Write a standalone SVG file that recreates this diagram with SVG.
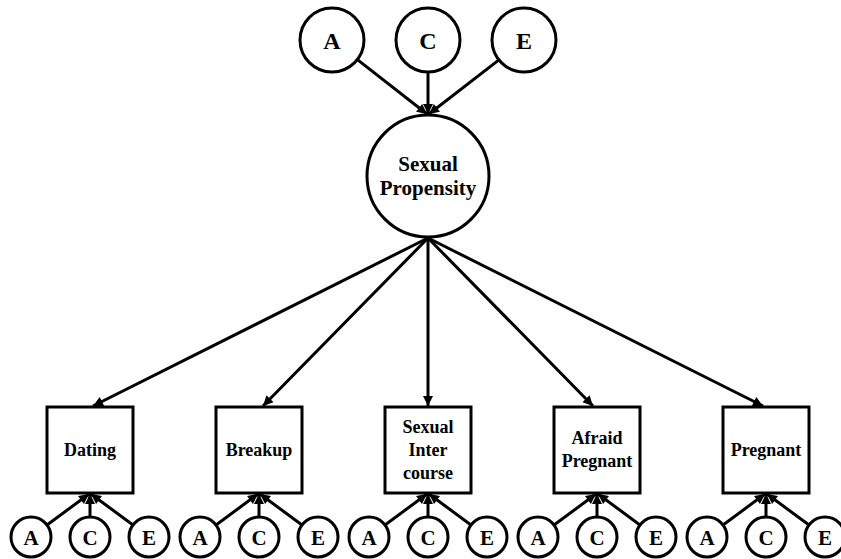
<svg xmlns="http://www.w3.org/2000/svg" width="841" height="559" viewBox="0 0 841 559">
<style>
.n{fill:#fff;stroke:#000;stroke-width:3}
.t{font-family:"Liberation Serif","Times New Roman",serif;font-weight:bold;fill:#000;text-anchor:middle;dominant-baseline:central}
.l{stroke:#000;stroke-width:3;fill:none;marker-end:url(#ah)}
</style>
<defs>
<marker id="ah" viewBox="0 0 10 10" refX="10" refY="5" markerWidth="12" markerHeight="10" markerUnits="userSpaceOnUse" orient="auto">
<path d="M0,0 L10,5 L0,10 z" fill="#000"/>
</marker>
</defs>
<rect width="841" height="559" fill="#fff"/>
<g id="connectors">
<line class="l" x1="357.4" y1="59.6" x2="427" y2="114"/>
<line class="l" x1="428" y1="72" x2="428" y2="114"/>
<line class="l" x1="499.6" y1="59.4" x2="429" y2="114"/>
<line class="l" x1="428" y1="238" x2="93" y2="406"/>
<line class="l" x1="428" y1="238" x2="263" y2="406"/>
<line class="l" x1="428" y1="238" x2="428" y2="406"/>
<line class="l" x1="428" y1="238" x2="593" y2="406"/>
<line class="l" x1="428" y1="238" x2="763" y2="406"/>
<line class="l" x1="47" y1="525" x2="89" y2="494"/><line class="l" x1="90" y1="517" x2="90" y2="494"/><line class="l" x1="133" y1="525" x2="91" y2="494"/>
<line class="l" x1="216" y1="525" x2="258" y2="494"/><line class="l" x1="259" y1="517" x2="259" y2="494"/><line class="l" x1="302" y1="525" x2="260" y2="494"/>
<line class="l" x1="385" y1="525" x2="427" y2="494"/><line class="l" x1="428" y1="517" x2="428" y2="494"/><line class="l" x1="471" y1="525" x2="429" y2="494"/>
<line class="l" x1="554" y1="525" x2="596" y2="494"/><line class="l" x1="597" y1="517" x2="597" y2="494"/><line class="l" x1="640" y1="525" x2="598" y2="494"/>
<line class="l" x1="723" y1="525" x2="765" y2="494"/><line class="l" x1="766" y1="517" x2="766" y2="494"/><line class="l" x1="809" y1="525" x2="767" y2="494"/>
</g>
<g id="topA"><circle class="n" cx="332" cy="40" r="32"/><text class="t" x="332" y="41" font-size="24">A</text></g>
<g id="topC"><circle class="n" cx="428" cy="40" r="32"/><text class="t" x="428" y="41" font-size="24">C</text></g>
<g id="topE"><circle class="n" cx="524" cy="40" r="32"/><text class="t" x="524" y="41" font-size="24">E</text></g>
<g id="propensity"><circle class="n" cx="428" cy="176" r="61"/><text class="t" x="428" y="164" font-size="21">Sexual</text><text class="t" x="428" y="188" font-size="21">Propensity</text></g>
<g id="dating"><rect class="n" x="47" y="407" width="86" height="86"/><text class="t" x="90" y="450" font-size="18">Dating</text></g>
<g id="breakup"><rect class="n" x="216" y="407" width="86" height="86"/><text class="t" x="259" y="450" font-size="18">Breakup</text></g>
<g id="intercourse"><rect class="n" x="385" y="407" width="86" height="86"/><text class="t" x="428" y="427" font-size="18">Sexual</text><text class="t" x="428" y="450" font-size="18">Inter</text><text class="t" x="428" y="473" font-size="18">course</text></g>
<g id="afraid"><rect class="n" x="554" y="407" width="86" height="86"/><text class="t" x="597" y="438" font-size="18">Afraid</text><text class="t" x="597" y="461" font-size="18">Pregnant</text></g>
<g id="pregnant"><rect class="n" x="723" y="407" width="86" height="86"/><text class="t" x="766" y="450" font-size="18">Pregnant</text></g>
<g id="bottom-circles">
<g id="d-A"><circle class="n" cx="31" cy="537" r="20"/><text class="t" x="31" y="538" font-size="21">A</text></g>
<g id="d-C"><circle class="n" cx="90" cy="537" r="20"/><text class="t" x="90" y="538" font-size="21">C</text></g>
<g id="d-E"><circle class="n" cx="149" cy="537" r="20"/><text class="t" x="149" y="538" font-size="21">E</text></g>
<g id="b-A"><circle class="n" cx="200" cy="537" r="20"/><text class="t" x="200" y="538" font-size="21">A</text></g>
<g id="b-C"><circle class="n" cx="259" cy="537" r="20"/><text class="t" x="259" y="538" font-size="21">C</text></g>
<g id="b-E"><circle class="n" cx="318" cy="537" r="20"/><text class="t" x="318" y="538" font-size="21">E</text></g>
<g id="i-A"><circle class="n" cx="369" cy="537" r="20"/><text class="t" x="369" y="538" font-size="21">A</text></g>
<g id="i-C"><circle class="n" cx="428" cy="537" r="20"/><text class="t" x="428" y="538" font-size="21">C</text></g>
<g id="i-E"><circle class="n" cx="487" cy="537" r="20"/><text class="t" x="487" y="538" font-size="21">E</text></g>
<g id="a-A"><circle class="n" cx="538" cy="537" r="20"/><text class="t" x="538" y="538" font-size="21">A</text></g>
<g id="a-C"><circle class="n" cx="597" cy="537" r="20"/><text class="t" x="597" y="538" font-size="21">C</text></g>
<g id="a-E"><circle class="n" cx="656" cy="537" r="20"/><text class="t" x="656" y="538" font-size="21">E</text></g>
<g id="p-A"><circle class="n" cx="707" cy="537" r="20"/><text class="t" x="707" y="538" font-size="21">A</text></g>
<g id="p-C"><circle class="n" cx="766" cy="537" r="20"/><text class="t" x="766" y="538" font-size="21">C</text></g>
<g id="p-E"><circle class="n" cx="825" cy="537" r="20"/><text class="t" x="825" y="538" font-size="21">E</text></g>
</g>
</svg>
